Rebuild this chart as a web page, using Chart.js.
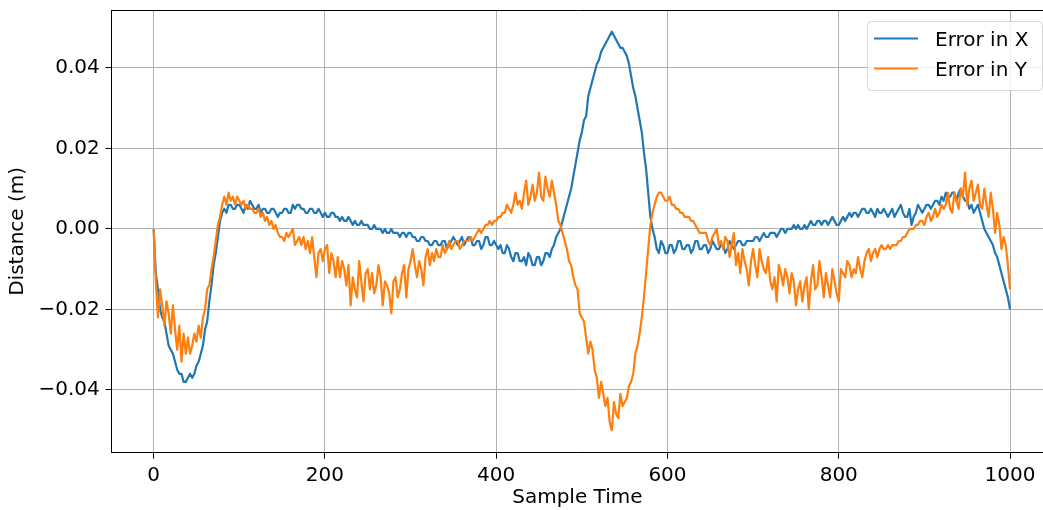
<!DOCTYPE html>
<html>
<head>
<meta charset="utf-8">
<script src="https://cdn.jsdelivr.net/npm/chart.js@4.4.1/dist/chart.umd.min.js"></script>
<style>
  html, body { margin: 0; padding: 0; background: #fff; }
  canvas { display: block; }
</style>
</head>
<body>
<canvas id="errors" width="1043" height="510"></canvas>
<script>
// sample index, every 2.5 samples
const sampleTime = [
  0, 2.5, 5, 7.5, 10, 12.5, 15, 17.5, 20, 22.5, 25, 27.5, 30, 32.5, 35, 37.5, 40, 42.5, 45, 47.5,
  50, 52.5, 55, 57.5, 60, 62.5, 65, 67.5, 70, 72.5, 75, 77.5, 80, 82.5, 85, 87.5, 90, 92.5, 95, 97.5,
  100, 102.5, 105, 107.5, 110, 112.5, 115, 117.5, 120, 122.5, 125, 127.5, 130, 132.5, 135, 137.5, 140, 142.5, 145, 147.5,
  150, 152.5, 155, 157.5, 160, 162.5, 165, 167.5, 170, 172.5, 175, 177.5, 180, 182.5, 185, 187.5, 190, 192.5, 195, 197.5,
  200, 202.5, 205, 207.5, 210, 212.5, 215, 217.5, 220, 222.5, 225, 227.5, 230, 232.5, 235, 237.5, 240, 242.5, 245, 247.5,
  250, 252.5, 255, 257.5, 260, 262.5, 265, 267.5, 270, 272.5, 275, 277.5, 280, 282.5, 285, 287.5, 290, 292.5, 295, 297.5,
  300, 302.5, 305, 307.5, 310, 312.5, 315, 317.5, 320, 322.5, 325, 327.5, 330, 332.5, 335, 337.5, 340, 342.5, 345, 347.5,
  350, 352.5, 355, 357.5, 360, 362.5, 365, 367.5, 370, 372.5, 375, 377.5, 380, 382.5, 385, 387.5, 390, 392.5, 395, 397.5,
  400, 402.5, 405, 407.5, 410, 412.5, 415, 417.5, 420, 422.5, 425, 427.5, 430, 432.5, 435, 437.5, 440, 442.5, 445, 447.5,
  450, 452.5, 455, 457.5, 460, 462.5, 465, 467.5, 470, 472.5, 475, 477.5, 480, 482.5, 485, 487.5, 490, 492.5, 495, 497.5,
  500, 502.5, 505, 507.5, 510, 512.5, 515, 517.5, 520, 522.5, 525, 527.5, 530, 532.5, 535, 537.5, 540, 542.5, 545, 547.5,
  550, 552.5, 555, 557.5, 560, 562.5, 565, 567.5, 570, 572.5, 575, 577.5, 580, 582.5, 585, 587.5, 590, 592.5, 595, 597.5,
  600, 602.5, 605, 607.5, 610, 612.5, 615, 617.5, 620, 622.5, 625, 627.5, 630, 632.5, 635, 637.5, 640, 642.5, 645, 647.5,
  650, 652.5, 655, 657.5, 660, 662.5, 665, 667.5, 670, 672.5, 675, 677.5, 680, 682.5, 685, 687.5, 690, 692.5, 695, 697.5,
  700, 702.5, 705, 707.5, 710, 712.5, 715, 717.5, 720, 722.5, 725, 727.5, 730, 732.5, 735, 737.5, 740, 742.5, 745, 747.5,
  750, 752.5, 755, 757.5, 760, 762.5, 765, 767.5, 770, 772.5, 775, 777.5, 780, 782.5, 785, 787.5, 790, 792.5, 795, 797.5,
  800, 802.5, 805, 807.5, 810, 812.5, 815, 817.5, 820, 822.5, 825, 827.5, 830, 832.5, 835, 837.5, 840, 842.5, 845, 847.5,
  850, 852.5, 855, 857.5, 860, 862.5, 865, 867.5, 870, 872.5, 875, 877.5, 880, 882.5, 885, 887.5, 890, 892.5, 895, 897.5,
  900, 902.5, 905, 907.5, 910, 912.5, 915, 917.5, 920, 922.5, 925, 927.5, 930, 932.5, 935, 937.5, 940, 942.5, 945, 947.5,
  950, 952.5, 955, 957.5, 960, 962.5, 965, 967.5, 970, 972.5, 975, 977.5, 980, 982.5, 985, 987.5, 990, 992.5, 995, 997.5,
  1000
];

// Error in X (m)
const errX = [
  0.000, -0.011, -0.015, -0.020, -0.022, -0.023, -0.026, -0.029, -0.030, -0.031, -0.033, -0.035, -0.036, -0.036, -0.038, -0.038, -0.037, -0.036, -0.037, -0.036,
  -0.034, -0.033, -0.031, -0.029, -0.025, -0.023, -0.018, -0.014, -0.009, -0.006, -0.002, 0.002, 0.004, 0.005, 0.004, 0.006, 0.006, 0.005, 0.005, 0.006,
  0.006, 0.005, 0.004, 0.006, 0.005, 0.007, 0.006, 0.005, 0.005, 0.006, 0.004, 0.005, 0.005, 0.004, 0.004, 0.005, 0.005, 0.004, 0.003, 0.004,
  0.004, 0.005, 0.005, 0.004, 0.004, 0.006, 0.005, 0.006, 0.006, 0.005, 0.005, 0.004, 0.004, 0.005, 0.005, 0.004, 0.004, 0.005, 0.004, 0.003,
  0.004, 0.003, 0.003, 0.004, 0.004, 0.003, 0.003, 0.002, 0.003, 0.002, 0.002, 0.003, 0.002, 0.001, 0.002, 0.001, 0.001, 0.002, 0.001, 0.001,
  0.001, 0.000, 0.000, 0.001, 0.000, 0.000, 0.000, -0.001, 0.000, -0.001, -0.001, 0.000, -0.001, -0.001, -0.001, -0.002, -0.001, -0.001, -0.002, -0.001,
  -0.001, -0.002, -0.002, -0.003, -0.003, -0.002, -0.002, -0.003, -0.003, -0.004, -0.004, -0.003, -0.003, -0.004, -0.004, -0.003, -0.003, -0.005, -0.004, -0.003,
  -0.002, -0.003, -0.004, -0.003, -0.002, -0.004, -0.003, -0.002, -0.002, -0.004, -0.004, -0.003, -0.003, -0.005, -0.004, -0.002, -0.002, -0.004, -0.004, -0.003,
  -0.004, -0.005, -0.004, -0.006, -0.006, -0.004, -0.005, -0.007, -0.008, -0.006, -0.006, -0.008, -0.008, -0.007, -0.009, -0.006, -0.007, -0.009, -0.009, -0.007,
  -0.007, -0.009, -0.008, -0.006, -0.006, -0.007, -0.005, -0.004, -0.002, -0.001, 0.000, 0.002, 0.004, 0.006, 0.008, 0.010, 0.013, 0.016, 0.019, 0.022,
  0.024, 0.027, 0.028, 0.033, 0.035, 0.037, 0.039, 0.041, 0.042, 0.044, 0.045, 0.046, 0.047, 0.048, 0.049, 0.048, 0.047, 0.046, 0.045, 0.045,
  0.044, 0.043, 0.041, 0.038, 0.035, 0.033, 0.030, 0.027, 0.024, 0.019, 0.015, 0.009, 0.003, 0.000, -0.002, -0.005, -0.006, -0.003, -0.004, -0.006,
  -0.006, -0.004, -0.004, -0.006, -0.005, -0.003, -0.003, -0.005, -0.005, -0.004, -0.004, -0.006, -0.005, -0.003, -0.003, -0.005, -0.005, -0.004, -0.004, -0.006,
  -0.005, -0.003, -0.004, -0.005, -0.005, -0.004, -0.004, -0.006, -0.005, -0.003, -0.004, -0.005, -0.004, -0.003, -0.003, -0.004, -0.004, -0.003, -0.003, -0.003,
  -0.003, -0.002, -0.002, -0.003, -0.002, -0.001, -0.002, -0.002, -0.001, -0.001, -0.001, -0.002, -0.001, 0.000, 0.000, -0.001, 0.000, 0.000, 0.000, 0.001,
  0.000, 0.001, 0.000, 0.000, 0.001, 0.000, 0.001, 0.002, 0.001, 0.001, 0.002, 0.002, 0.001, 0.002, 0.002, 0.001, 0.002, 0.003, 0.002, 0.001,
  0.001, 0.002, 0.003, 0.002, 0.003, 0.004, 0.003, 0.004, 0.004, 0.003, 0.004, 0.005, 0.005, 0.004, 0.004, 0.005, 0.004, 0.003, 0.005, 0.004,
  0.004, 0.005, 0.004, 0.003, 0.004, 0.005, 0.003, 0.004, 0.005, 0.006, 0.004, 0.003, 0.003, 0.005, 0.001, 0.003, 0.004, 0.006, 0.005, 0.004,
  0.005, 0.006, 0.006, 0.005, 0.006, 0.007, 0.007, 0.006, 0.008, 0.007, 0.009, 0.008, 0.008, 0.009, 0.009, 0.007, 0.009, 0.010, 0.008, 0.007,
  0.007, 0.005, 0.006, 0.004, 0.005, 0.006, 0.004, 0.002, 0.000, -0.001, -0.002, -0.003, -0.004, -0.006, -0.007, -0.009, -0.011, -0.013, -0.015, -0.017,
  -0.020
];

// Error in Y (m)
const errY = [
  0.000, -0.013, -0.022, -0.015, -0.019, -0.024, -0.018, -0.021, -0.026, -0.019, -0.025, -0.030, -0.024, -0.033, -0.026, -0.031, -0.027, -0.031, -0.029, -0.026,
  -0.028, -0.024, -0.027, -0.022, -0.020, -0.015, -0.014, -0.010, -0.007, -0.003, 0.001, 0.003, 0.006, 0.008, 0.006, 0.009, 0.007, 0.008, 0.006, 0.008,
  0.007, 0.006, 0.007, 0.005, 0.006, 0.005, 0.005, 0.004, 0.004, 0.005, 0.003, 0.004, 0.002, 0.003, 0.001, 0.002, 0.000, 0.001, -0.001, -0.002,
  -0.002, -0.003, -0.001, -0.002, -0.001, 0.000, -0.004, -0.003, -0.002, -0.004, -0.002, -0.005, -0.003, -0.006, -0.002, -0.007, -0.012, -0.006, -0.005, -0.008,
  -0.005, -0.004, -0.011, -0.006, -0.008, -0.012, -0.007, -0.012, -0.008, -0.010, -0.014, -0.009, -0.019, -0.012, -0.015, -0.017, -0.008, -0.013, -0.018, -0.011,
  -0.010, -0.015, -0.011, -0.016, -0.014, -0.009, -0.012, -0.019, -0.013, -0.014, -0.016, -0.021, -0.013, -0.012, -0.017, -0.015, -0.011, -0.009, -0.017, -0.010,
  -0.008, -0.005, -0.009, -0.012, -0.008, -0.010, -0.014, -0.007, -0.005, -0.009, -0.006, -0.008, -0.005, -0.007, -0.007, -0.004, -0.006, -0.005, -0.003, -0.005,
  -0.004, -0.003, -0.003, -0.005, -0.004, -0.003, -0.003, -0.003, -0.002, -0.003, -0.002, -0.001, 0.000, -0.001, 0.000, 0.001, 0.001, 0.002, 0.001, 0.002,
  0.002, 0.003, 0.003, 0.004, 0.004, 0.006, 0.005, 0.004, 0.006, 0.009, 0.006, 0.007, 0.005, 0.009, 0.012, 0.006, 0.008, 0.011, 0.007, 0.009,
  0.014, 0.008, 0.007, 0.013, 0.010, 0.008, 0.012, 0.009, 0.006, 0.002, 0.001, -0.001, -0.003, -0.005, -0.008, -0.009, -0.012, -0.014, -0.015, -0.021,
  -0.022, -0.023, -0.027, -0.031, -0.028, -0.030, -0.035, -0.037, -0.042, -0.038, -0.041, -0.044, -0.042, -0.048, -0.050, -0.043, -0.046, -0.047, -0.041, -0.044,
  -0.043, -0.042, -0.039, -0.038, -0.036, -0.031, -0.029, -0.026, -0.022, -0.017, -0.011, -0.005, 0.001, 0.004, 0.006, 0.008, 0.009, 0.009, 0.008, 0.007,
  0.007, 0.008, 0.006, 0.006, 0.005, 0.005, 0.004, 0.004, 0.003, 0.003, 0.003, 0.002, 0.002, 0.001, 0.000, -0.001, -0.001, -0.001, -0.001, -0.003,
  -0.004, -0.002, -0.001, 0.000, -0.004, -0.003, -0.005, -0.002, -0.003, -0.007, -0.004, -0.001, -0.009, -0.006, -0.011, -0.005, -0.008, -0.010, -0.014, -0.008,
  -0.005, -0.009, -0.012, -0.005, -0.008, -0.010, -0.011, -0.007, -0.013, -0.015, -0.012, -0.018, -0.009, -0.011, -0.014, -0.010, -0.012, -0.016, -0.011, -0.013,
  -0.019, -0.015, -0.013, -0.018, -0.014, -0.012, -0.020, -0.013, -0.009, -0.015, -0.014, -0.008, -0.012, -0.017, -0.011, -0.014, -0.017, -0.010, -0.013, -0.016,
  -0.018, -0.010, -0.011, -0.012, -0.008, -0.009, -0.012, -0.010, -0.011, -0.007, -0.010, -0.012, -0.008, -0.006, -0.005, -0.008, -0.006, -0.005, -0.007, -0.005,
  -0.004, -0.005, -0.005, -0.004, -0.005, -0.004, -0.004, -0.004, -0.003, -0.003, -0.002, -0.002, -0.001, 0.000, 0.000, 0.000, 0.001, 0.001, 0.002, 0.002,
  0.001, 0.003, 0.004, 0.002, 0.003, 0.005, 0.003, 0.004, 0.006, 0.005, 0.006, 0.009, 0.005, 0.004, 0.009, 0.007, 0.005, 0.010, 0.008, 0.014,
  0.006, 0.010, 0.012, 0.007, 0.009, 0.011, 0.006, 0.005, 0.010, 0.006, 0.003, 0.009, 0.005, -0.001, 0.004, 0.001, -0.005, -0.002, -0.004, -0.009,
  -0.015
];

const seriesLabels = ['Error in X', 'Error in Y'];
const xTicks = [0, 200, 400, 600, 800, 1000];
const yTicks = [-0.04, -0.02, 0.00, 0.02, 0.04];

const FONT = 'DejaVu Sans';

// top spine + matplotlib-style legend box
const frameAndLegend = {
  id: 'frameAndLegend',
  afterDraw(chart) {
    const { ctx, chartArea: a } = chart;
    ctx.save();
    ctx.strokeStyle = '#000';
    ctx.lineWidth = 1;
    ctx.beginPath();
    ctx.moveTo(a.left, a.top + 0.5);
    ctx.lineTo(a.right, a.top + 0.5);
    ctx.stroke();

    const bx = 867.5, by = 21.5, bw = 175, bh = 69;
    ctx.beginPath();
    ctx.roundRect(bx, by, bw, bh, 4);
    ctx.fillStyle = 'rgba(255,255,255,0.8)';
    ctx.fill();
    ctx.strokeStyle = '#d6d6d6';
    ctx.stroke();

    ctx.font = '20px "' + FONT + '"';
    ctx.textBaseline = 'alphabetic';
    ctx.textAlign = 'left';
    chart.data.datasets.forEach((ds, i) => {
      const y = 38.5 + i * 30;
      ctx.strokeStyle = ds.borderColor;
      ctx.lineWidth = 2.2;
      ctx.beginPath();
      ctx.moveTo(874, y);
      ctx.lineTo(918, y);
      ctx.stroke();
      ctx.fillStyle = '#000';
      ctx.fillText(ds.label, 935, y + 7);
    });
    ctx.restore();
  }
};

new Chart(document.getElementById('errors'), {
  type: 'line',
  data: {
    datasets: [
      { label: seriesLabels[0], data: sampleTime.map((t, i) => ({ x: t, y: errX[i] })),
        borderColor: '#1f77b4', backgroundColor: '#1f77b4', order: 1 },
      { label: seriesLabels[1], data: sampleTime.map((t, i) => ({ x: t, y: errY[i] })),
        borderColor: '#ff7f0e', backgroundColor: '#ff7f0e', order: 0 }
    ]
  },
  options: {
    responsive: false,
    animation: false,
    layout: { padding: { top: 10, right: 0, bottom: 0, left: 0 } },
    elements: {
      point: { radius: 0 },
      line: { borderWidth: 2.2, tension: 0, borderJoinStyle: 'round', fill: false }
    },
    plugins: { legend: { display: false }, tooltip: { enabled: false } },
    scales: {
      x: {
        type: 'linear', min: -49, max: 1038.5,
        afterBuildTicks: s => { s.ticks = xTicks.map(v => ({ value: v })); },
        afterFit: s => { s.height = 57.3; s.paddingLeft = 0; s.paddingRight = 0; },
        grid: { color: '#b0b0b0', lineWidth: 1, tickColor: '#000', tickLength: 6 },
        border: { color: '#000', width: 1 },
        ticks: { color: '#000', padding: 5, maxRotation: 0, font: { family: FONT, size: 20 },
                 callback: v => String(v) },
        title: { display: true, text: 'Sample Time', color: '#000',
                 font: { family: FONT, size: 20 }, padding: { top: 0, bottom: 0 } }
      },
      y: {
        type: 'linear', min: -0.0556, max: 0.0544,
        afterBuildTicks: s => { s.ticks = yTicks.map(v => ({ value: v })); },
        afterFit: s => { s.width = 111.7; s.paddingTop = 0; s.paddingBottom = 0; },
        grid: { color: '#b0b0b0', lineWidth: 1, tickColor: '#000', tickLength: 6 },
        border: { color: '#000', width: 1 },
        ticks: { color: '#000', padding: 6, font: { family: FONT, size: 20 },
                 callback: v => (v < -1e-9 ? '\u2212' : '') + Math.abs(v).toFixed(2) },
        title: { display: true, text: 'Distance (m)', color: '#000',
                 font: { family: FONT, size: 20 }, padding: { top: 6, bottom: 0 } }
      }
    }
  },
  plugins: [frameAndLegend]
});
</script>
</body>
</html>
